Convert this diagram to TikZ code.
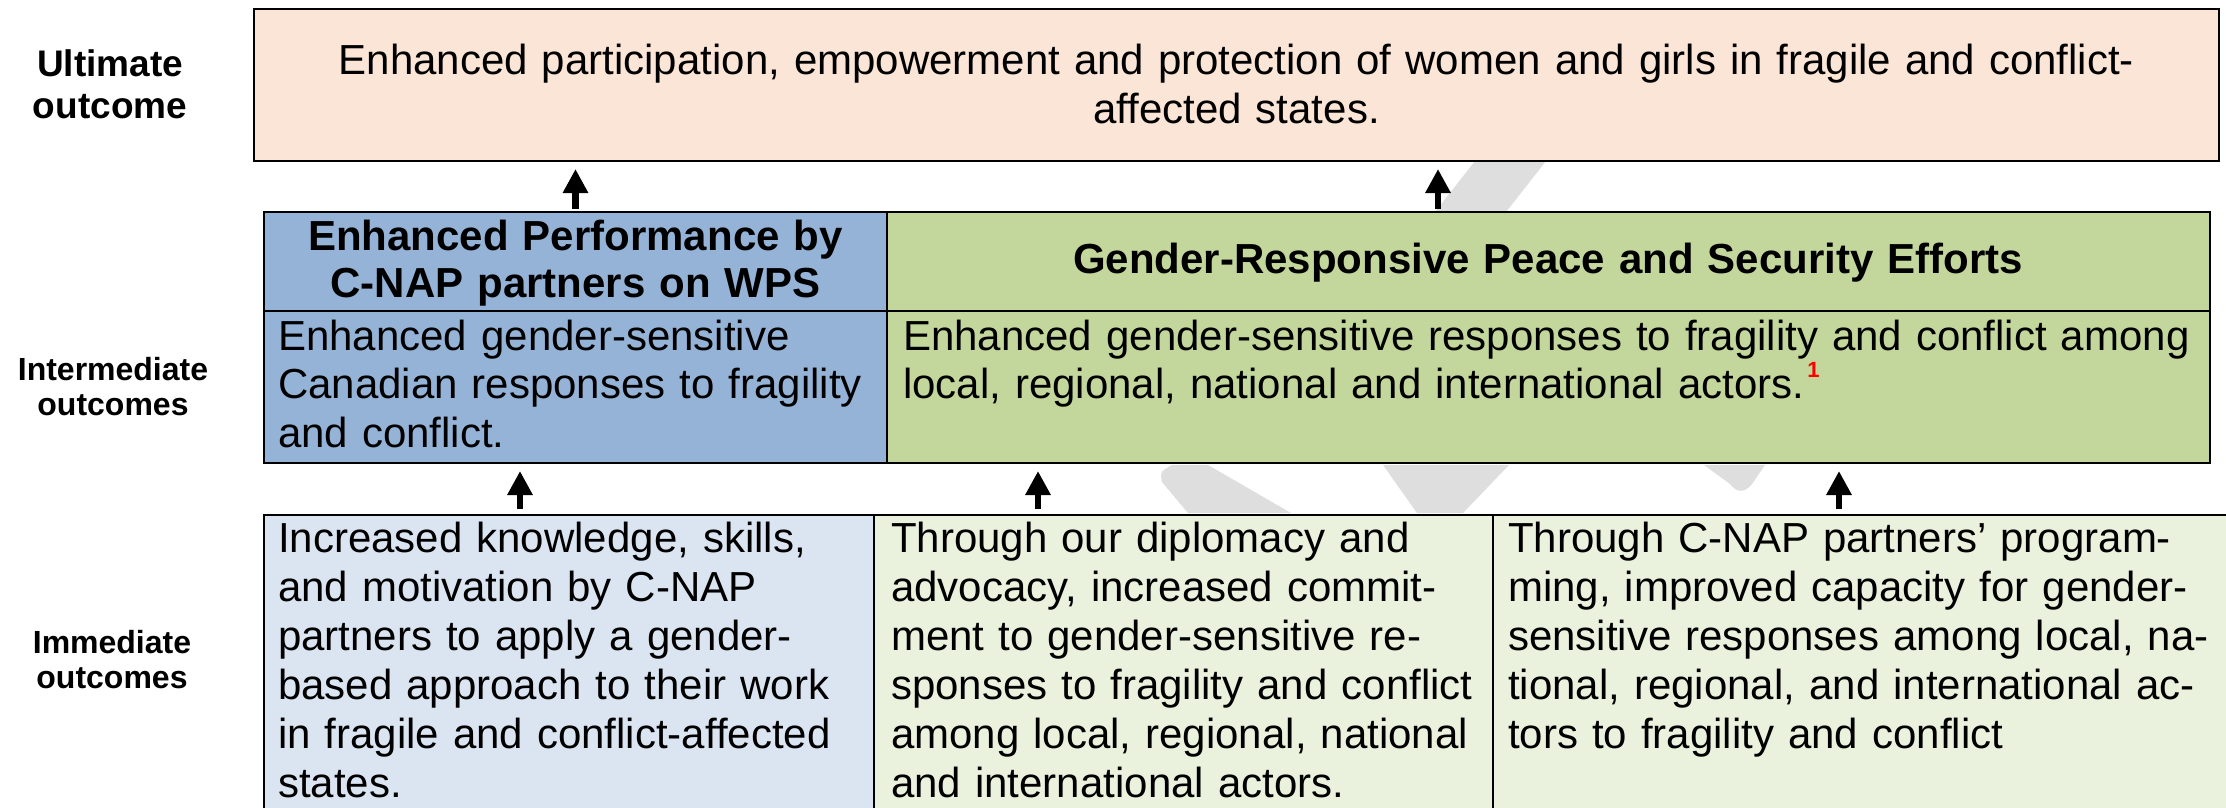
\documentclass[tikz,border=0pt]{standalone}
\usepackage{fontspec}
\setmainfont{Liberation Sans}
\usetikzlibrary{arrows.meta}
\definecolor{peach}{HTML}{FBE5D6}
\definecolor{midblue}{HTML}{95B3D7}
\definecolor{midgreen}{HTML}{C3D69B}
\definecolor{paleblue}{HTML}{DBE5F1}
\definecolor{palegreen}{HTML}{EAF1DD}
\definecolor{wmark}{HTML}{DEDEDE}
\begin{document}
\begin{tikzpicture}[x=1pt,y=-1pt,
  cell/.style={draw=black,line width=2pt,anchor=north west,inner sep=0pt,outer sep=0pt},
  bodytxt/.style={font=\fontsize{42}{49}\selectfont,anchor=base west,inner sep=0pt,align=left,text width=#1},
  headtxt/.style={font=\bfseries\fontsize{42}{47}\selectfont,anchor=base,inner sep=0pt,align=center,text width=#1},
  sidelbl/.style={font=\bfseries\fontsize{32}{35.5}\selectfont,anchor=base,inner sep=0pt,align=center,text width=240pt},
  uparrow/.style={line width=6.5pt,-{Triangle[width=24pt,length=24pt]}}
]
\clip (0,0) rectangle (2226,807);
\fill[white] (0,0) rectangle (2226,807);
% faint watermark pieces
\fill[wmark] (1475,161) -- (1546,161) -- (1506,212) -- (1435,212) -- cycle;
\fill[wmark] (1172,465) -- (1208,465) -- (1291,513) -- (1188,513) -- (1162,482) .. controls (1160,472) .. (1172,465) -- cycle;
\fill[wmark] (1383,465) -- (1509,465) -- (1463,513) -- (1417,513) -- cycle;
\fill[wmark] (1704,465) -- (1765,465) -- (1752,484) .. controls (1744,494) and (1736,492) .. (1730,484) -- cycle;

% ultimate outcome
\node[cell,fill=peach,minimum width=1965pt,minimum height=152pt] (ult) at (254,9) {};
\node[font=\fontsize{42}{49}\selectfont,anchor=base,inner sep=0pt,align=center,text width=1950pt] (ulttxt) at (1236.5,74)
  {Enhanced participation, empowerment and protection of women and girls in fragile and conflict-\\affected states.};

% intermediate outcomes
\node[cell,fill=midblue,minimum width=623pt,minimum height=99pt] (h1) at (264,212) {};
\node[cell,fill=midgreen,minimum width=1323pt,minimum height=99pt] (h2) at (887,212) {};
\node[cell,fill=midblue,minimum width=623pt,minimum height=152pt] (b1) at (264,311) {};
\node[cell,fill=midgreen,minimum width=1323pt,minimum height=152pt] (b2) at (887,311) {};
\node[headtxt=620pt] (h1txt) at (575.5,250) {Enhanced Performance by\\C-NAP partners on WPS};
\node[headtxt=1300pt] (h2txt) at (1548,273) {Gender-Responsive Peace and Security Efforts};
\node[bodytxt=640pt,font=\fontsize{42}{48.5}\selectfont] (b1txt) at (278,350) {Enhanced gender-sensitive\\Canadian responses to fragility\\and conflict.};
\node[bodytxt=1320pt,font=\fontsize{42}{48.5}\selectfont] (b2txt) at (903,350) {Enhanced gender-sensitive responses to fragility and conflict among\\local, regional, national and international actors.\hspace{3pt}\raisebox{21pt}{\textcolor{red}{\bfseries\fontsize{22}{22}\selectfont 1}}};

% immediate outcomes
\node[cell,fill=paleblue,minimum width=610pt,minimum height=320pt] (i1) at (264,515) {};
\node[cell,fill=palegreen,minimum width=619pt,minimum height=320pt] (i2) at (874,515) {};
\node[cell,fill=palegreen,minimum width=760pt,minimum height=320pt] (i3) at (1493,515) {};
\node[bodytxt=640pt] (i1txt) at (278,552) {Increased knowledge, skills,\\and motivation by C-NAP\\partners to apply a gender-\\based approach to their work\\in fragile and conflict-affected\\states.};
\node[bodytxt=640pt] (i2txt) at (891,552) {Through our diplomacy and\\advocacy, increased commit-\\ment to gender-sensitive re-\\sponses to fragility and conflict\\among local, regional, national\\and international actors.};
\node[bodytxt=740pt] (i3txt) at (1508,552) {Through C-NAP partners’ program-\\ming, improved capacity for gender-\\sensitive responses among local, na-\\tional, regional, and international ac-\\tors to fragility and conflict};

% side labels
\node[sidelbl,font=\bfseries\fontsize{37}{42}\selectfont] (lult) at (110,76) {Ultimate\\outcome};
\node[sidelbl] (lint) at (113,380) {Intermediate\\outcomes};
\node[sidelbl] (limm) at (112,653) {Immediate\\outcomes};

% arrows
\draw[uparrow] ([yshift=3pt]h1.north) -- ([yshift=-8pt]ult.south -| h1.north);
\draw[uparrow] ([xshift=551pt,yshift=3pt]h2.north west) -- ([xshift=551pt,yshift=-8pt]ult.south -| h2.north west);
\draw[uparrow] ([xshift=256pt,yshift=6pt]i1.north west) -- ([xshift=256pt,yshift=-8pt]b1.south west);
\draw[uparrow] ([xshift=164pt,yshift=6pt]i2.north west) -- ([xshift=151pt,yshift=-8pt]b2.south west);
\draw[uparrow] ([xshift=346pt,yshift=6pt]i3.north west) -- ([xshift=952pt,yshift=-8pt]b2.south west);
\end{tikzpicture}
\end{document}
